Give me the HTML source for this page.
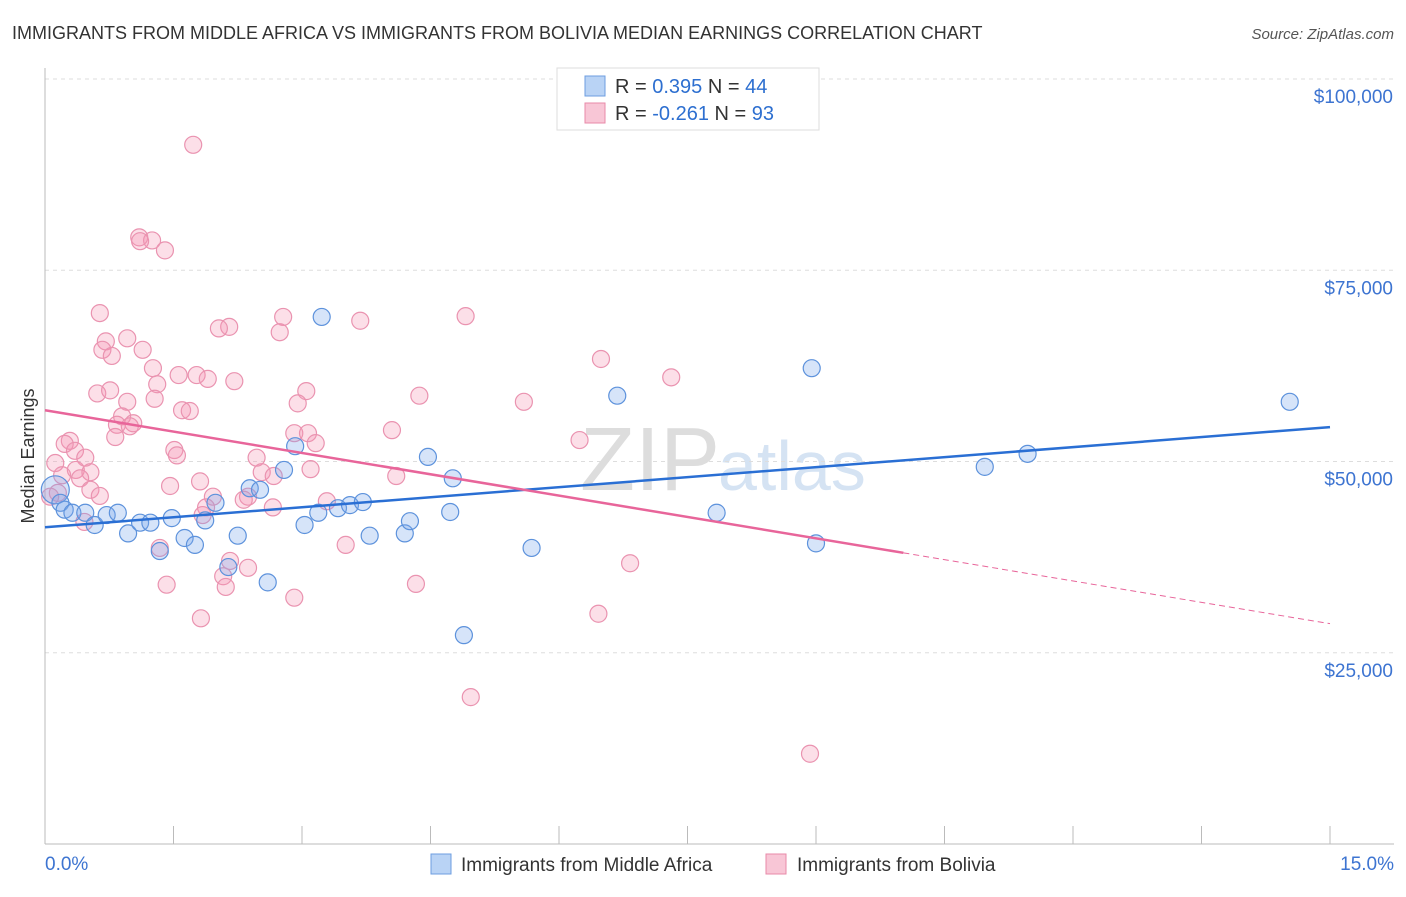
<!DOCTYPE html>
<html><head><meta charset="utf-8"><style>
body{margin:0;background:#fff;font-family:"Liberation Sans",sans-serif;}
svg text{font-family:"Liberation Sans",sans-serif;}
</style></head><body>
<svg id="chart" width="1406" height="892" xmlns="http://www.w3.org/2000/svg">
<text x="12" y="39" font-size="18" fill="#333">IMMIGRANTS FROM MIDDLE AFRICA VS IMMIGRANTS FROM BOLIVIA MEDIAN EARNINGS CORRELATION CHART</text>
<text x="1394" y="39" font-size="15" fill="#555" font-style="italic" text-anchor="end">Source: ZipAtlas.com</text>
<text x="720" y="490" font-size="90" fill="#ddd" text-anchor="end" font-family="Liberation Serif">ZIP</text>
<text x="718" y="490" font-size="70" fill="#d5e3f3">atlas</text>
<g id="grid"></g><g id="axes"></g><g id="marks"></g>
<text transform="translate(34,456) rotate(-90)" font-size="18" fill="#333" text-anchor="middle">Median Earnings</text>
<g>
<rect x="557" y="68" width="262" height="62" fill="#fff" stroke="#ddd"/>
<rect x="585" y="76" width="20" height="20" fill="#b9d3f5" stroke="#6d9ee0"/>
<text x="615" y="93" font-size="20" fill="#333">R = <tspan fill="#2d6fd0"> 0.395</tspan>   N = <tspan fill="#2d6fd0">44</tspan></text>
<rect x="585" y="103" width="20" height="20" fill="#f8c6d6" stroke="#e88aa8"/>
<text x="615" y="120" font-size="20" fill="#333">R = <tspan fill="#2d6fd0">-0.261</tspan>   N = <tspan fill="#2d6fd0">93</tspan></text>
</g>
<g>
<rect x="431" y="854" width="20" height="20" fill="#b9d3f5" stroke="#6d9ee0"/>
<text x="461" y="871" font-size="19" fill="#333">Immigrants from Middle Africa</text>
<rect x="766" y="854" width="20" height="20" fill="#f8c6d6" stroke="#e88aa8"/>
<text x="797" y="871" font-size="19" fill="#333">Immigrants from Bolivia</text>
</g>
</svg>
<script>
const yTicks=[25000,50000,75000,100000];
const yTickLabels=["$25,000","$50,000","$75,000","$100,000"];
const blueX=[0.12,0.18,0.23,0.32,0.47,0.58,0.72,0.85,0.97,1.11,1.23,1.34,1.48,1.63,1.75,1.87,1.99,2.14,2.25,2.39,2.51,2.60,2.79,2.92,3.03,3.19,3.23,3.42,3.56,3.71,3.79,4.20,4.26,4.47,4.73,4.76,4.89,5.68,6.68,7.84,8.95,9.00,10.97,11.47,14.53];
const blueY=[46300,44600,43700,43300,43300,41700,43000,43300,40600,42000,42000,38300,42600,40000,39100,42300,44600,36200,40300,46500,46300,34200,48900,52000,41700,43300,68900,43900,44300,44700,40300,40600,42200,50600,43400,47800,27300,38700,58600,43300,62200,39300,49300,51000,57800];
const pinkX=[1.73,1.10,1.25,1.11,1.40,0.64,2.78,2.15,2.03,2.74,3.68,4.91,0.71,0.96,0.67,1.14,0.78,1.26,6.49,1.56,1.77,1.90,2.21,7.31,1.31,0.61,0.76,3.05,4.37,0.96,1.28,1.60,1.69,2.95,5.59,0.90,1.03,0.84,0.99,4.05,0.82,0.29,0.23,2.91,3.07,0.35,1.51,3.16,1.54,6.24,0.47,0.12,2.47,0.36,0.53,3.10,0.20,0.41,2.53,2.67,4.10,1.81,1.46,0.53,0.15,0.06,1.96,2.37,2.32,3.29,0.64,1.88,2.66,0.46,1.84,1.34,3.51,2.16,2.37,2.08,6.83,1.42,2.11,4.33,2.91,6.46,1.82,4.97,8.93];
const pinkY=[91400,79300,78900,78800,77600,69400,68900,67600,67400,66900,68400,69000,65700,66100,64600,64600,63800,62200,63400,61300,61300,60800,60500,61000,60100,58900,59300,59200,58600,57800,58200,56700,56600,57600,57800,55900,55000,54800,54600,54100,53200,52700,52300,53700,53700,51400,51500,52400,50800,52800,50500,49800,50500,48900,48600,49000,48200,47800,48600,48100,48100,47400,46800,46300,45900,45400,45400,45400,45000,44800,45500,44000,44000,42100,43000,38700,39100,37000,36100,35000,36700,33900,33600,34000,32200,30100,29500,19200,11800];
const blueTrend=[41400,54500];
const pinkTrend=[56700,28800];
const pinkSolidEnd=10.02;
const NS="http://www.w3.org/2000/svg";
const X=v=>45+v*(1330-45)/15;
const Y=v=>844-v*(844-79)/100000;
function mk(tag,attrs,parent){const e=document.createElementNS(NS,tag);for(const k in attrs)e.setAttribute(k,attrs[k]);parent.appendChild(e);return e;}
const grid=document.getElementById('grid'),axes=document.getElementById('axes'),marks=document.getElementById('marks');
yTicks.forEach((t,i)=>{
 const l=mk('line',{x1:45,x2:1394,y1:Y(t),y2:Y(t),stroke:'#ddd','stroke-dasharray':'4,4'},grid);
 
 
 const tx=mk('text',{x:1393,y:Y(t)+24,'font-size':19,fill:'#3d74d1','text-anchor':'end'},axes);
 tx.textContent=yTickLabels[i];
 
 
});
const ax=mk('line',{x1:45,x2:1394,y1:844,y2:844,stroke:'#bbb'},axes);


const ay=mk('line',{x1:45,x2:45,y1:68,y2:844,stroke:'#bbb'},axes);


for(let i=1;i<=10;i++){const t=mk('line',{x1:X(i*1.5),x2:X(i*1.5),y1:826,y2:844,stroke:'#bbb'},axes);
 
 }
const xl0=mk('text',{x:45,y:870,'font-size':19,fill:'#3d74d1'},axes);xl0.textContent='0.0%';


const xl1=mk('text',{x:1394,y:870,'font-size':19,fill:'#3d74d1','text-anchor':'end'},axes);xl1.textContent='15.0%';


pinkX.forEach((x,i)=>{const c=mk('circle',{cx:X(x),cy:Y(pinkY[i]),r:8.5,fill:'rgba(244,150,180,0.3)',stroke:'#ea93b0','stroke-width':1.2},marks);
 
 });
blueX.forEach((x,i)=>{const c=mk('circle',{cx:X(x),cy:Y(blueY[i]),r:i===0?14:8.5,fill:'rgba(120,165,235,0.3)',stroke:'#5d92dc','stroke-width':1.2},marks);
 
 });
const bl=mk('line',{x1:X(0),y1:Y(blueTrend[0]),x2:X(15),y2:Y(blueTrend[1]),stroke:'#2a6fd4','stroke-width':2.5},marks);


const pe=pinkTrend[0]+(pinkTrend[1]-pinkTrend[0])*pinkSolidEnd/15;
const pl=mk('line',{x1:X(0),y1:Y(pinkTrend[0]),x2:X(pinkSolidEnd),y2:Y(pe),stroke:'#e8659a','stroke-width':2.5},marks);


const pd=mk('line',{x1:X(pinkSolidEnd),y1:Y(pe),x2:X(15),y2:Y(pinkTrend[1]),stroke:'#e8659a','stroke-width':1,'stroke-dasharray':'6,4'},marks);


</script>
</body></html>
